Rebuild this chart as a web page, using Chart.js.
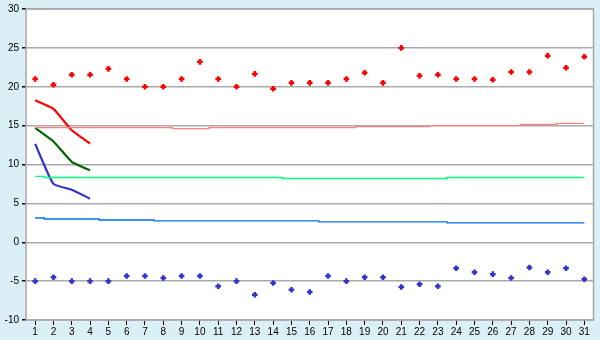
<!DOCTYPE html>
<html>
<head>
<meta charset="utf-8">
<script src="https://cdn.jsdelivr.net/npm/chart.js@4"></script>
<style>
	html, body { margin: 0; padding: 0; background: #DBEFF6; }
	#wrap { width: 600px; height: 340px; }
</style>
</head>
<body>
<div id="wrap"><canvas id="myChart"></canvas></div>
<script>
// categories (days)
var labels = ["1", "2", "3", "4", "5", "6", "7", "8", "9", "10", "11", "12", "13", "14", "15", "16",
	"17", "18", "19", "20", "21", "22", "23", "24", "25", "26", "27", "28", "29", "30", "31"];

// scattered points
var redPoints = [21.0, 20.25, 21.55, 21.55, 22.3, 21.0, 20.0, 20.0, 21.0, 23.2, 21.0, 20.0, 21.65, 19.75, 20.5, 20.5,
	20.5, 21.0, 21.8, 20.5, 25.0, 21.4, 21.55, 21.0, 21.0, 20.9, 21.9, 21.9, 24.0, 22.45, 23.85];
var bluePoints = [-5.0, -4.5, -5.0, -5.0, -5.0, -4.35, -4.35, -4.6, -4.35, -4.35, -5.65, -5.0, -6.75, -5.25, -6.1, -6.4,
	-4.35, -5.0, -4.5, -4.5, -5.75, -5.4, -5.65, -3.35, -3.85, -4.1, -4.6, -3.25, -3.85, -3.35, -4.75];

// short curves (first 4 days)
var redCurve = [18.25, 17.15, 14.4, 12.7];
var greenCurve = [14.7, 12.95, 10.35, 9.25];
var blueCurve = [12.65, 7.5, 6.75, 5.6];

// step lines
var pinkStep = [14.75, 14.75, 14.75, 14.75, 14.75, 14.75, 14.75, 14.75, 14.62, 14.62, 14.75, 14.75, 14.75, 14.75, 14.75, 14.75,
	14.75, 14.75, 14.87, 14.87, 14.87, 14.87, 15.0, 15.0, 15.0, 15.0, 15.0, 15.17, 15.17, 15.3, 15.3];
var greenStep = [8.46, 8.33, 8.33, 8.33, 8.33, 8.33, 8.33, 8.33, 8.33, 8.33, 8.33, 8.33, 8.33, 8.33, 8.2, 8.2,
	8.2, 8.2, 8.2, 8.2, 8.2, 8.2, 8.2, 8.33, 8.33, 8.33, 8.33, 8.33, 8.33, 8.33, 8.33];
var blueStep = [3.12, 2.99, 2.99, 2.99, 2.86, 2.86, 2.86, 2.74, 2.74, 2.74, 2.74, 2.74, 2.74, 2.74, 2.74, 2.74,
	2.61, 2.61, 2.61, 2.61, 2.61, 2.61, 2.61, 2.48, 2.48, 2.48, 2.48, 2.48, 2.48, 2.48, 2.48];

var yMin = -10, yMax = 30, yStep = 5;

function stepLine(data, color) {
	return { type: 'line', data: data, borderColor: color, borderWidth: 1.3, stepped: 'middle', pointRadius: 0, fill: false };
}
function curve(data, color) {
	return { type: 'line', data: data, borderColor: color, borderWidth: 2.2, tension: 0.15, pointRadius: 0, fill: false };
}
function dots(data, color) {
	return {
		type: 'line', data: data, showLine: false, pointStyle: 'cross', pointRadius: 2.8,
		pointBorderWidth: 2.5, pointBorderColor: color, pointBackgroundColor: color
	};
}

// white plot area + grey frame
var plotArea = {
	id: 'plotArea',
	beforeDraw(chart) {
		var a = chart.chartArea, ctx = chart.ctx;
		ctx.save();
		ctx.fillStyle = '#FFFFFF';
		ctx.fillRect(a.left, a.top, a.right - a.left, a.bottom - a.top);
		ctx.restore();
	},
	afterDatasetsDraw(chart) {
		var a = chart.chartArea, ctx = chart.ctx;
		ctx.save();
		ctx.strokeStyle = '#A8A8A8';
		ctx.lineWidth = 1.5;
		ctx.strokeRect(a.left, a.top, a.right - a.left, a.bottom - a.top);
		ctx.restore();
	}
};

Chart.defaults.font.family = "'Liberation Sans', Arial, sans-serif";
Chart.defaults.font.size = 10;
Chart.defaults.color = '#000000';

var ctx = document.getElementById('myChart').getContext('2d');
var myChart = new Chart(ctx, {
	type: 'line',
	data: {
		labels: labels,
		datasets: [
			stepLine(pinkStep, '#FF8080'),
			stepLine(greenStep, '#00FF80'),
			stepLine(blueStep, '#0070F0'),
			curve(redCurve, '#FF0000'),
			curve(greenCurve, '#006600'),
			curve(blueCurve, '#3333CC'),
			dots(redPoints, '#FF0000'),
			dots(bluePoints, '#3333CC')
		]
	},
	options: {
		responsive: true,
		maintainAspectRatio: false,
		animation: false,
		layout: { padding: { top: 5, right: 5, left: 0, bottom: 0 } },
		plugins: { legend: { display: false }, tooltip: { enabled: false } },
		scales: {
			x: {
				offset: true,
				grid: { drawOnChartArea: false, drawTicks: true, tickLength: 5, color: '#000000' },
				border: { display: false },
				ticks: { padding: 1, maxRotation: 0, autoSkip: false },
				afterFit(s) { s.height = 20; }
			},
			y: {
				min: yMin, max: yMax,
				grid: { color: '#AAAAAA', lineWidth: 1.5, tickLength: 4, tickColor: '#000000' },
				border: { display: false },
				ticks: { stepSize: yStep, padding: 3 },
				afterFit(s) { s.width = 26; }
			}
		}
	},
	plugins: [plotArea]
});
</script>
</body>
</html>
